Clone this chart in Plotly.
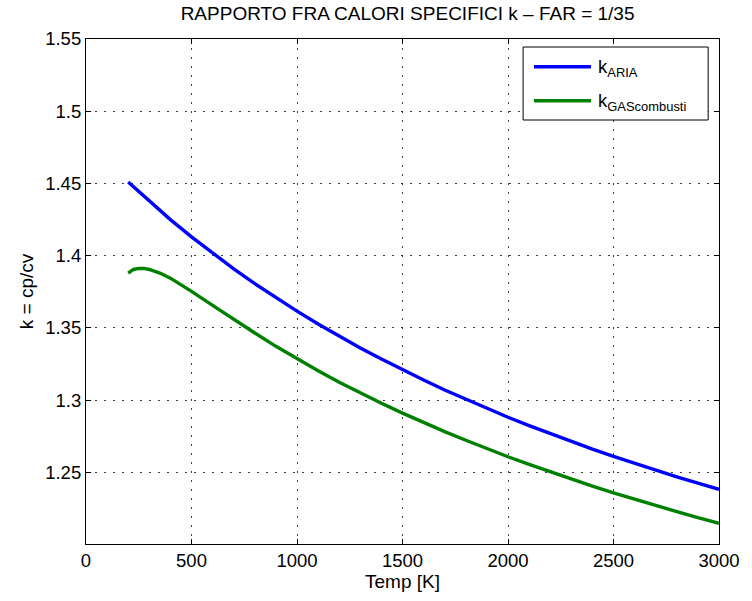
import plotly.graph_objects as go

# Temperature grid [K]
temp_aria = [200, 300, 400, 500, 600, 700, 800, 900, 1000, 1100, 1200, 1300, 1400, 1500,
             1600, 1700, 1800, 1900, 2000, 2100, 2200, 2300, 2400, 2500, 2600, 2700, 2800,
             2900, 3000]
k_aria = [1.4510, 1.4377, 1.4250, 1.4131, 1.4017, 1.3909, 1.3807, 1.3709, 1.3617, 1.3528,
          1.3443, 1.3362, 1.3285, 1.3211, 1.3140, 1.3071, 1.3006, 1.2943, 1.2882, 1.2824,
          1.2768, 1.2714, 1.2661, 1.2611, 1.2562, 1.2515, 1.2470, 1.2426, 1.2383]

temp_gas = [200, 225, 250, 275, 300, 350, 400, 450, 500, 600, 700, 800, 900, 1000, 1100,
            1200, 1300, 1400, 1500, 1600, 1700, 1800, 1900, 2000, 2100, 2200, 2300, 2400,
            2500, 2600, 2700, 2800, 2900, 3000]
k_gas = [1.3880, 1.3905, 1.3912, 1.3912, 1.3905, 1.3880, 1.3845, 1.3800, 1.3753, 1.3657,
         1.3559, 1.3465, 1.3373, 1.3287, 1.3204, 1.3125, 1.3050, 1.2979, 1.2911, 1.2846,
         1.2783, 1.2723, 1.2665, 1.2609, 1.2556, 1.2504, 1.2454, 1.2405, 1.2359, 1.2314,
         1.2271, 1.2229, 1.2188, 1.2148]

series_names = ["k<sub>ARIA</sub>", "k<sub>GAScombusti</sub>"]
series_colors = ["#0000FF", "#008000"]

x_ticks = [0, 500, 1000, 1500, 2000, 2500, 3000]
y_ticks = [1.25, 1.3, 1.35, 1.4, 1.45, 1.5, 1.55]
y_tick_text = ["1.25", "1.3", "1.35", "1.4", "1.45", "1.5", "1.55"]

FONT = "Liberation Sans, Arial, Helvetica, sans-serif"
FS = 18.5

fig = go.Figure()
for xs, ys, name, col in [(temp_aria, k_aria, series_names[0], series_colors[0]),
                          (temp_gas, k_gas, series_names[1], series_colors[1])]:
    fig.add_trace(go.Scatter(x=xs, y=ys, mode="lines", name=name, showlegend=False,
                             line=dict(color=col, width=3.4)))

axis_common = dict(
    showline=True, linecolor="black", linewidth=1.2, mirror="ticks",
    ticks="inside", ticklen=5, tickcolor="black", tickwidth=1,
    showgrid=True, gridcolor="rgba(0,0,0,0.75)", gridwidth=1, griddash="1.5px,7.5px",
    zeroline=False, tickfont=dict(family=FONT, size=FS, color="black"),
)

fig.update_layout(
    width=752, height=601,
    margin=dict(l=86, r=23, t=39, b=57),
    paper_bgcolor="white", plot_bgcolor="white",
    font=dict(family=FONT, size=FS, color="black"),
    title=dict(text="RAPPORTO FRA CALORI SPECIFICI k \u2013 FAR = 1/35",
               x=0.542, xanchor="center", y=0.977, yanchor="middle",
               font=dict(family=FONT, size=19, color="black")),
    xaxis=dict(range=[0, 3000], tickvals=x_ticks,
               title=dict(text="Temp [K]", standoff=2, font=dict(family=FONT, size=19)),
               **axis_common),
    yaxis=dict(range=[1.2005, 1.55], tickvals=y_ticks, ticktext=y_tick_text,
               title=dict(text="k = cp/cv", standoff=6, font=dict(family=FONT, size=19)),
               **axis_common),
    showlegend=False,
)

# Legend box (MATLAB-style), in plot-area fractions
def px_x(px):
    return (px - 86) / 643.0

def px_y(py):
    return 1 - (py - 39) / 505.0

fig.add_shape(type="rect", xref="paper", yref="paper",
              x0=px_x(530), x1=px_x(718), y0=px_y(120), y1=px_y(47),
              line=dict(color="black", width=1), fillcolor="white", layer="above")
legend_rows = [66.7, 100.7]
for row_y, name, col in zip(legend_rows, series_names, series_colors):
    fig.add_shape(type="line", xref="paper", yref="paper",
                  x0=px_x(541), x1=px_x(599), y0=px_y(row_y), y1=px_y(row_y),
                  line=dict(color=col, width=3.4), layer="above")
    fig.add_annotation(xref="paper", yref="paper", x=px_x(604), y=px_y(row_y + 1.5),
                       xanchor="left", yanchor="middle", showarrow=False, text=name,
                       font=dict(family=FONT, size=FS, color="black"))

fig.write_html("out.html")
